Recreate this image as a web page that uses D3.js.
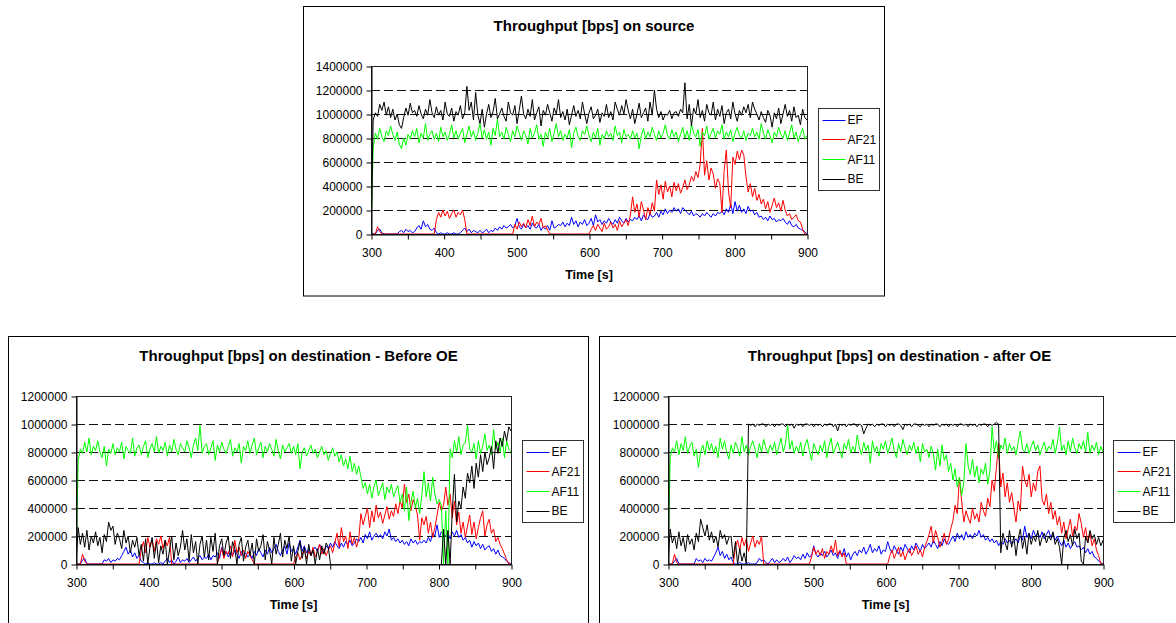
<!DOCTYPE html>
<html>
<head>
<meta charset="utf-8">
<script src="https://cdn.jsdelivr.net/npm/d3@7"></script>
<style>
  html, body { margin: 0; padding: 0; background: #fff; }
  svg { display: block; }
</style>
</head>
<body>
<svg id="chart" width="1176" height="623"></svg>
<script>
// ---------- data (throughput values in units of 10 000 bps, one sample every 3 s from 300 s to 900 s) ----------
const seriesNames = ["EF", "AF21", "AF11", "BE"];
const seriesColors = ["#0000FF", "#FF0000", "#00FF00", "#000000"];
const sampleTimes = d3.range(300, 901, 3);

const xTickValues = [300, 350, 400, 450, 500, 550, 600, 650, 700, 750, 800, 850, 900];
const xTickLabels = ["300", "", "400", "", "500", "", "600", "", "700", "", "800", "", "900"];
const yTickValuesSource = [0, 20, 40, 60, 80, 100, 120, 140];
const yTickLabelsSource = ["0", "200000", "400000", "600000", "800000", "1000000", "1200000", "1400000"];
const yTickValuesDest = [0, 20, 40, 60, 80, 100, 120];
const yTickLabelsDest = ["0", "200000", "400000", "600000", "800000", "1000000", "1200000"];

const titles = [
  "Throughput [bps] on source",
  "Throughput [bps] on destination - Before OE",
  "Throughput [bps] on destination - after OE"
];
const xAxisTitle = "Time [s]";

// --- source ---
const sourceEF = [
  0,0,0,3,4,1,0,0,0,0,
  0,0,0,2,3,1,4,2,3,1,
  2,5,7,4,11,6,8,4,3,5,
  1,0,1,0,0,1,0,0,1,0,
  0,1,3,5,2,4,1,3,2,1,
  3,1,2,4,1,3,2,5,3,6,
  4,7,5,6,8,5,7,13,6,4,
  8,5,7,4,9,6,5,8,3,6,
  4,7,3,11,5,6,8,7,10,6,
  9,7,14,8,11,6,10,8,12,7,
  9,13,7,16,10,12,8,11,9,13,
  10,8,12,9,14,11,9,13,10,12,
  11,14,12,15,11,16,13,12,17,14,
  15,18,14,19,16,21,17,20,18,22,
  19,21,17,22,20,18,16,19,15,17,
  16,14,17,15,18,16,14,17,15,18,
  17,19,16,21,18,25,17,27,19,24,
  18,21,17,23,19,20,16,18,14,15,
  12,14,11,15,12,13,10,12,11,13,
  10,8,11,7,6,8,5,4,3,2,
  0
];
const sourceAF21 = [
  0,0,0,6,2,0,0,0,0,0,
  0,0,0,0,0,0,0,0,0,0,
  0,0,0,0,0,0,0,0,0,0,
  12,18,14,20,15,19,13,17,20,14,
  18,16,20,12,0,0,0,0,0,0,
  0,0,0,0,0,0,0,0,0,0,
  0,0,0,0,0,0,8,4,10,6,
  9,5,12,7,15,6,10,8,13,5,
  7,3,0,0,0,0,0,0,0,0,
  0,0,0,0,0,0,0,0,0,0,
  0,4,7,3,8,5,2,9,4,6,
  10,5,8,3,11,6,9,12,7,16,
  31,18,25,14,27,20,12,22,16,26,
  19,45,33,41,29,44,35,40,31,43,
  36,42,34,39,45,37,41,48,44,52,
  47,58,88,49,61,45,55,50,38,46,
  42,18,53,70,35,22,64,58,69,62,
  70,66,48,35,42,31,38,28,33,25,
  29,21,27,18,24,30,22,26,19,28,
  20,15,17,12,14,16,11,10,4,0,
  0
];
const sourceAF11 = [
  0,72,84,79,88,81,77,86,82,90,
  83,78,85,75,71,80,74,83,79,86,
  81,88,76,84,80,92,78,83,86,79,
  84,77,89,81,85,78,83,91,80,86,
  79,84,88,76,83,90,81,86,78,84,
  92,80,87,79,85,74,88,82,96,81,
  85,79,89,83,77,86,81,90,84,78,
  86,82,75,88,80,84,91,79,83,73,
  85,80,88,77,84,92,81,86,78,83,
  80,87,72,84,89,81,78,86,83,90,
  82,77,85,80,88,74,83,79,86,81,
  84,78,90,82,85,76,87,81,83,79,
  86,80,84,71,82,88,79,85,81,89,
  83,78,86,80,84,91,82,79,87,81,
  85,77,83,89,80,86,78,92,84,81,
  87,73,85,82,90,79,84,88,80,86,
  83,91,79,85,81,87,77,84,89,82,
  80,86,78,84,82,88,81,85,79,92,
  84,79,87,82,76,85,81,89,83,80,
  86,78,84,91,80,85,77,83,88,79,
  82
];
const sourceBE = [
  0,95,101,98,108,103,110,99,106,97,
  104,95,100,91,88,97,105,99,109,101,
  103,98,107,100,96,104,99,112,101,97,
  106,99,103,95,110,100,98,105,94,102,
  99,107,96,101,123,103,110,95,118,99,
  92,104,89,100,108,97,102,113,96,100,
  105,98,94,110,101,99,107,92,103,115,
  100,96,104,98,112,95,101,106,90,103,
  99,108,101,94,105,100,112,97,102,95,
  104,91,99,107,98,103,96,110,100,92,
  101,106,96,99,104,93,101,98,108,97,
  102,95,110,104,99,107,100,112,103,96,
  104,92,100,109,97,101,105,94,110,99,
  120,104,97,102,95,100,99,103,96,101,
  102,98,104,101,126,96,108,90,105,100,
  112,97,103,94,108,101,99,110,95,104,
  98,107,92,101,104,96,110,100,94,103,
  99,106,101,108,97,110,104,100,95,102,
  97,93,103,99,89,101,96,105,92,100,
  108,98,103,94,106,97,99,91,104,97,
  95
];

// --- destination, before OE ---
const beforeEF = [
  0,0,0,3,4,0,0,0,0,0,
  0,0,0,3,2,4,1,3,2,4,
  3,6,9,12,7,10,5,8,4,6,
  2,1,0,1,0,0,1,0,0,1,
  0,2,4,1,3,0,2,5,1,3,
  2,4,1,3,5,2,4,6,3,5,
  4,7,3,6,5,8,4,12,6,9,
  5,8,6,10,7,4,9,6,8,5,
  7,4,9,6,11,8,5,10,7,12,
  8,11,14,9,6,10,13,7,15,9,
  11,7,12,17,9,13,8,11,6,10,
  12,9,14,10,8,13,11,15,12,16,
  13,11,15,12,16,14,17,13,15,18,
  16,19,15,21,18,23,17,20,22,19,
  21,18,23,20,25,17,19,16,18,15,
  17,14,16,13,18,15,17,14,16,15,
  17,15,19,16,22,20,28,19,23,21,
  20,22,18,23,20,24,19,21,17,19,
  15,17,12,16,13,15,11,14,10,12,
  13,9,11,7,10,6,5,4,2,1,
  0
];
const beforeAF21 = [
  0,0,0,7,2,0,0,0,0,0,
  0,0,0,0,0,0,0,0,0,0,
  0,0,0,0,0,0,0,0,0,0,
  10,16,8,19,12,17,9,18,14,20,
  11,17,13,19,0,0,0,0,0,0,
  0,0,0,0,0,0,0,0,0,0,
  0,0,0,0,0,0,6,11,4,9,
  7,13,5,17,8,12,6,10,4,9,
  6,3,0,0,0,0,0,0,0,0,
  0,0,0,0,0,0,0,0,0,0,
  0,5,8,3,7,10,4,9,6,12,
  5,9,14,7,11,6,10,13,8,15,
  22,12,26,16,20,11,23,14,19,12,
  18,36,28,34,40,26,38,30,42,33,
  37,29,35,41,32,38,34,43,36,45,
  40,57,44,50,38,46,42,35,17,33,
  28,34,22,30,19,26,35,44,38,42,
  55,42,50,33,45,28,37,22,30,19,
  27,35,21,30,18,26,33,38,20,28,
  32,22,25,16,19,14,11,7,3,0,
  0
];
const beforeAF11 = [
  0,74,82,79,87,80,90,78,84,81,
  88,80,76,84,70,82,79,86,78,83,
  80,87,75,84,81,79,90,77,83,85,
  78,84,88,76,82,86,80,91,79,84,
  81,87,77,85,80,89,82,78,86,83,
  80,88,83,76,85,90,81,99,79,84,
  86,78,83,88,74,85,80,87,82,79,
  84,89,77,83,80,86,72,84,81,88,
  79,85,90,78,83,87,76,84,80,86,
  82,77,89,81,75,85,80,83,86,79,
  84,78,86,68,80,83,77,81,85,79,
  82,76,80,84,78,81,74,79,83,77,
  80,73,78,70,75,68,77,66,72,64,
  70,62,54,58,50,57,47,55,60,49,
  53,58,46,55,51,57,48,52,56,44,
  50,38,55,31,44,52,40,47,36,49,
  66,48,58,45,62,50,43,46,42,0,
  38,0,82,76,88,80,91,78,85,87,
  99,82,80,86,75,88,79,84,93,81,
  85,78,96,82,87,80,90,76,88,82,
  80
];
// null = no BE traffic recorded (line not drawn)
const beforeBE = [
  0,26,14,22,12,24,10,20,15,23,
  13,19,8,21,16,30,24,27,14,22,
  18,11,24,15,20,8,17,12,19,6,
  14,2,18,0,12,19,4,16,1,13,
  7,17,0,10,20,3,15,6,12,24,
  10,18,2,21,8,16,0,14,20,5,
  17,3,19,9,22,0,13,18,6,15,
  20,4,16,11,0,14,19,2,12,17,
  6,15,0,18,9,13,21,3,16,10,
  0,19,7,14,22,5,17,11,20,2,
  13,0,9,16,4,12,0,14,6,10,
  0,11,3,13,7,15,12,0,null,null,
  null,null,null,null,null,null,null,null,null,null,
  null,null,null,null,null,null,null,null,null,null,
  null,null,null,null,null,null,null,null,null,null,
  null,null,null,null,null,null,null,null,null,null,
  null,null,null,null,null,null,null,null,0,25,
  0,24,0,38,64,30,45,40,55,47,
  65,58,70,54,72,62,78,66,80,71,
  76,84,68,88,79,90,84,95,88,98,
  95
];

// --- destination, after OE ---
const afterEF = [
  0,0,0,2,4,0,0,0,0,0,
  0,0,0,4,2,3,1,4,2,3,
  2,5,8,12,6,9,4,7,3,5,
  1,0,0,1,0,0,0,1,0,0,
  0,1,4,2,3,1,0,2,4,1,
  3,1,2,4,2,5,1,3,6,4,
  5,3,7,4,8,5,6,13,7,5,
  8,6,9,5,7,10,6,8,4,9,
  6,11,5,8,3,7,9,6,10,8,
  12,7,10,14,8,11,9,13,7,10,
  9,16,11,8,13,10,7,12,9,14,
  11,8,13,10,15,12,9,14,11,13,
  15,12,17,14,11,16,13,18,15,14,
  17,20,16,22,18,21,17,23,19,21,
  18,22,20,24,19,21,17,19,16,18,
  15,17,13,16,14,18,15,17,14,16,
  18,15,20,17,27,19,22,18,24,20,
  22,19,23,18,21,24,19,22,17,20,
  16,13,17,12,15,11,14,16,12,13,
  10,12,8,11,7,9,5,4,2,1,
  0
];
const afterAF21 = [
  0,0,0,7,1,0,0,0,0,0,
  0,0,0,0,0,0,0,0,0,0,
  0,0,0,0,0,0,0,0,0,0,
  0,12,17,10,19,13,18,9,15,20,
  12,17,14,20,0,0,0,0,0,0,
  0,0,0,0,0,0,0,0,0,0,
  0,0,0,0,0,0,5,12,7,10,
  6,11,4,9,7,13,8,17,6,10,
  5,8,0,0,0,0,0,0,0,0,
  0,0,0,0,0,0,0,0,0,0,
  0,0,6,10,4,8,12,5,9,3,
  8,11,6,9,13,7,10,5,12,16,
  21,27,15,24,19,12,16,22,14,18,
  25,31,42,36,62,45,30,38,33,29,
  40,32,36,30,44,38,34,47,41,60,
  52,69,86,55,65,48,58,44,51,40,
  30,45,38,70,60,55,64,48,58,52,
  66,70,46,42,50,36,44,32,38,28,
  34,22,30,18,25,32,20,27,24,36,
  29,19,26,15,22,13,18,10,6,0,
  0
];
const afterAF11 = [
  0,76,83,80,88,78,86,81,91,79,
  84,87,77,82,69,80,85,78,88,81,
  86,79,84,76,90,82,88,80,75,85,
  79,87,83,77,91,80,85,78,84,88,
  82,76,86,80,89,83,79,85,81,87,
  78,84,90,80,86,99,82,88,79,84,
  80,87,77,85,89,81,74,86,82,78,
  85,80,88,76,84,90,79,83,87,81,
  76,86,82,89,79,84,80,92,83,78,
  87,81,85,72,88,80,84,77,86,82,
  88,79,84,90,81,76,86,80,89,83,
  78,85,81,87,79,84,73,86,80,82,
  76,84,79,67,82,70,85,74,78,66,
  72,60,68,55,62,49,58,86,70,64,
  75,62,70,58,68,64,72,57,66,98,
  80,88,76,85,82,90,79,86,81,84,
  78,87,95,82,80,86,79,84,88,81,
  85,78,83,87,80,84,82,89,79,86,
  98,81,85,78,88,80,90,83,79,86,
  82,88,80,94,79,85,81,87,78,84,
  80
];
const afterBE = [
  0,25,15,20,11,23,13,19,9,21,
  14,18,10,22,16,32,26,20,28,17,
  23,15,20,12,24,18,21,14,19,20,
  4,16,0,11,2,8,0,100,99,100,
  98,100,99,100,100,98,100,99,100,98,
  100,99,100,100,98,100,99,100,97,100,
  99,100,98,100,100,99,100,98,100,99,
  100,98,100,99,100,100,98,100,95,100,
  99,100,98,100,99,100,100,98,100,99,
  93,97,100,99,100,98,100,99,100,100,
  98,100,99,100,98,100,100,99,96,100,
  99,100,98,100,100,99,98,100,99,100,
  98,100,99,100,100,98,100,99,100,98,
  100,99,100,98,100,100,99,100,98,100,
  99,100,98,100,99,100,100,98,100,99,
  100,101,100,8,22,15,10,24,12,20,
  6,18,25,11,19,7,22,14,20,16,
  24,13,19,22,15,20,17,23,14,18,
  12,0,19,24,16,21,13,25,18,22,
  2,0,20,15,24,18,21,14,19,13,
  17
];

// ---------- layout ----------
const FONT = "'Liberation Sans', Arial, Helvetica, sans-serif";
const panels = [
  { title: titles[0], box: [303.5, 6.5, 581, 289.5], plot: [371, 807, 66, 234],
    yMax: 140, yTickValues: yTickValuesSource, yTickLabels: yTickLabelsSource,
    legend: [818.5, 108.5], series: [sourceEF, sourceAF21, sourceAF11, sourceBE] },
  { title: titles[1], box: [8.5, 336.5, 580, 300], plot: [76, 511, 396, 564],
    yMax: 120, yTickValues: yTickValuesDest, yTickLabels: yTickLabelsDest,
    legend: [522.5, 440.5], series: [beforeEF, beforeAF21, beforeAF11, beforeBE] },
  { title: titles[2], box: [599.5, 336.5, 600, 300], plot: [668, 1103, 396, 564],
    yMax: 120, yTickValues: yTickValuesDest, yTickLabels: yTickLabelsDest,
    legend: [1113.5, 440.5], series: [afterEF, afterAF21, afterAF11, afterBE] }
];

const svg = d3.select("#chart");
svg.append("rect").attr("width", 1176).attr("height", 623).attr("fill", "#fff");

panels.forEach(p => {
  const [bx, by, bw, bh] = p.box;
  const [px0, px1, py0, py1] = p.plot;
  const g = svg.append("g");

  g.append("rect").attr("x", bx).attr("y", by).attr("width", bw).attr("height", bh)
    .attr("fill", "#fff").attr("stroke", "#000").attr("stroke-width", 1);

  const x = d3.scaleLinear().domain([300, 900]).range([px0, px1]);
  const y = d3.scaleLinear().domain([0, p.yMax]).range([py1, py0]);

  // grid lines
  g.append("g").selectAll("line")
    .data(p.yTickValues.filter(v => v > 0 && v < p.yMax))
    .join("line")
    .attr("x1", px0).attr("x2", px1)
    .attr("y1", d => Math.round(y(d)) + 0.5).attr("y2", d => Math.round(y(d)) + 0.5)
    .attr("stroke", "#111").attr("stroke-width", 1).attr("stroke-dasharray", "9,4");

  // series
  const clipId = "clip" + Math.round(px0);
  g.append("clipPath").attr("id", clipId).append("rect")
    .attr("x", px0).attr("y", py0 - 4).attr("width", px1 - px0 + 1).attr("height", py1 - py0 + 5);
  const line = d3.line()
    .defined(d => d != null)
    .x((d, i) => x(sampleTimes[i]))
    .y(d => y(d));
  const sg = g.append("g").attr("clip-path", `url(#${clipId})`);
  p.series.forEach((vals, k) => {
    sg.append("path").datum(vals)
      .attr("d", line)
      .attr("fill", "none")
      .attr("stroke", seriesColors[k])
      .attr("stroke-width", 1)
      .attr("stroke-linejoin", "round");
  });

  // plot border
  g.append("rect").attr("x", px0 + 0.5).attr("y", py0 + 0.5)
    .attr("width", px1 - px0).attr("height", py1 - py0)
    .attr("fill", "none").attr("stroke", "#222").attr("stroke-width", 1);

  // y axis
  const yAxis = d3.axisLeft(y).tickValues(p.yTickValues)
    .tickFormat((d, i) => p.yTickLabels[i]).tickSize(5).tickPadding(4).tickSizeOuter(0);
  const ya = g.append("g").attr("transform", `translate(${px0 + 0.5},0.5)`).call(yAxis);
  ya.select(".domain").attr("stroke", "#000");
  ya.selectAll(".tick line").attr("stroke", "#000");
  ya.selectAll("text").attr("font-family", FONT).attr("font-size", 12).attr("fill", "#000")
    .attr("dy", "0.34em");

  // x axis
  const xAxis = d3.axisBottom(x).tickValues(xTickValues)
    .tickFormat((d, i) => xTickLabels[i]).tickSize(5).tickPadding(8.5).tickSizeOuter(0);
  const xa = g.append("g").attr("transform", `translate(0.5,${py1 + 0.5})`).call(xAxis);
  xa.select(".domain").attr("stroke", "#000");
  xa.selectAll(".tick line").attr("stroke", "#000");
  xa.selectAll("text").attr("font-family", FONT).attr("font-size", 12).attr("fill", "#000");

  // titles
  g.append("text").attr("x", bx + bw / 2).attr("y", py0 - 35)
    .attr("text-anchor", "middle").attr("font-family", FONT).attr("font-weight", "bold")
    .attr("font-size", 15).attr("fill", "#000").text(p.title);
  g.append("text").attr("x", (px0 + px1) / 2).attr("y", py1 + 44.5)
    .attr("text-anchor", "middle").attr("font-family", FONT).attr("font-weight", "bold")
    .attr("font-size", 12.5).attr("fill", "#000").text(xAxisTitle);

  // legend
  const [lx, ly] = p.legend;
  const lg = g.append("g").attr("transform", `translate(${lx},${ly})`);
  lg.append("rect").attr("width", 61).attr("height", 82)
    .attr("fill", "#fff").attr("stroke", "#333").attr("stroke-width", 1);
  seriesNames.forEach((name, k) => {
    const yy = 11.5 + k * 19.7;
    lg.append("line").attr("x1", 4).attr("x2", 27).attr("y1", Math.round(yy)).attr("y2", Math.round(yy))
      .attr("stroke", seriesColors[k]).attr("stroke-width", 1);
    lg.append("text").attr("x", 29).attr("y", yy + 4.3)
      .attr("font-family", FONT).attr("font-size", 12).attr("fill", "#000").text(name);
  });
});
</script>
</body>
</html>
